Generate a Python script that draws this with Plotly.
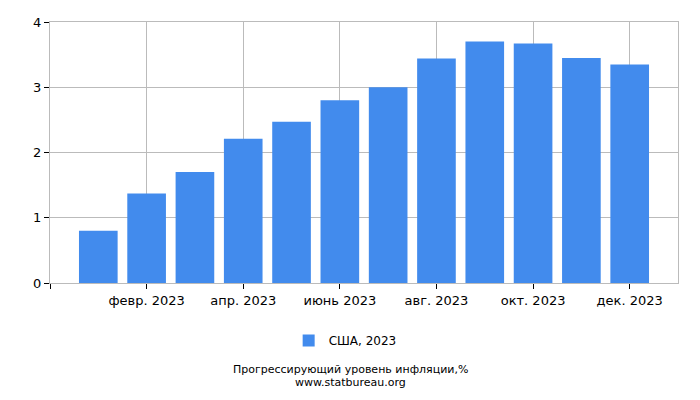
import plotly.graph_objects as go

months = [1, 2, 3, 4, 5, 6, 7, 8, 9, 10, 11, 12]
values = [0.80, 1.37, 1.70, 2.21, 2.47, 2.80, 3.00, 3.44, 3.70, 3.67, 3.45, 3.35]
tick_vals = [0, 2, 4, 6, 8, 10, 12]
tick_text = ["", "февр. 2023", "апр. 2023", "июнь 2023", "авг. 2023", "окт. 2023", "дек. 2023"]
series_name = "США, 2023"

fig = go.Figure()
fig.add_trace(go.Bar(
    x=months, y=values, name=series_name,
    marker=dict(color="#428bed", line=dict(width=0)),
    width=0.8,
))

font = "DejaVu Sans, sans-serif"
fig.update_layout(
    width=700, height=400,
    margin=dict(l=50, r=22, t=22, b=117),
    paper_bgcolor="white", plot_bgcolor="white",
    font=dict(family=font, size=13, color="#000"),
    showlegend=True,
    legend=dict(orientation="h", x=0.47, xanchor="center", y=-0.165, yanchor="top",
                font=dict(size=12), itemwidth=30),
    xaxis=dict(range=[0, 13], tickvals=tick_vals, ticktext=tick_text,
               showgrid=True, gridcolor="#bbbbbb", gridwidth=1,
               ticks="outside", ticklen=5, tickcolor="#000",
               showline=True, linecolor="#bbbbbb", mirror=True, zeroline=False,
               tickfont=dict(size=13)),
    yaxis=dict(range=[0, 4], tickvals=[0, 1, 2, 3, 4],
               showgrid=True, gridcolor="#bbbbbb", gridwidth=1,
               ticks="outside", ticklen=5, tickcolor="#000",
               showline=True, linecolor="#bbbbbb", mirror=True, zeroline=False,
               tickfont=dict(size=13)),
    bargap=0.2,
    annotations=[
        dict(text="Прогрессирующий уровень инфляции,%",
             x=0.478, xref="paper", y=-0.333, yref="paper", yanchor="middle",
             showarrow=False, font=dict(size=11), align="center"),
        dict(text="www.statbureau.org",
             x=0.478, xref="paper", y=-0.383, yref="paper", yanchor="middle",
             showarrow=False, font=dict(size=11), align="center"),
    ],
)

fig.write_html("out.html")
